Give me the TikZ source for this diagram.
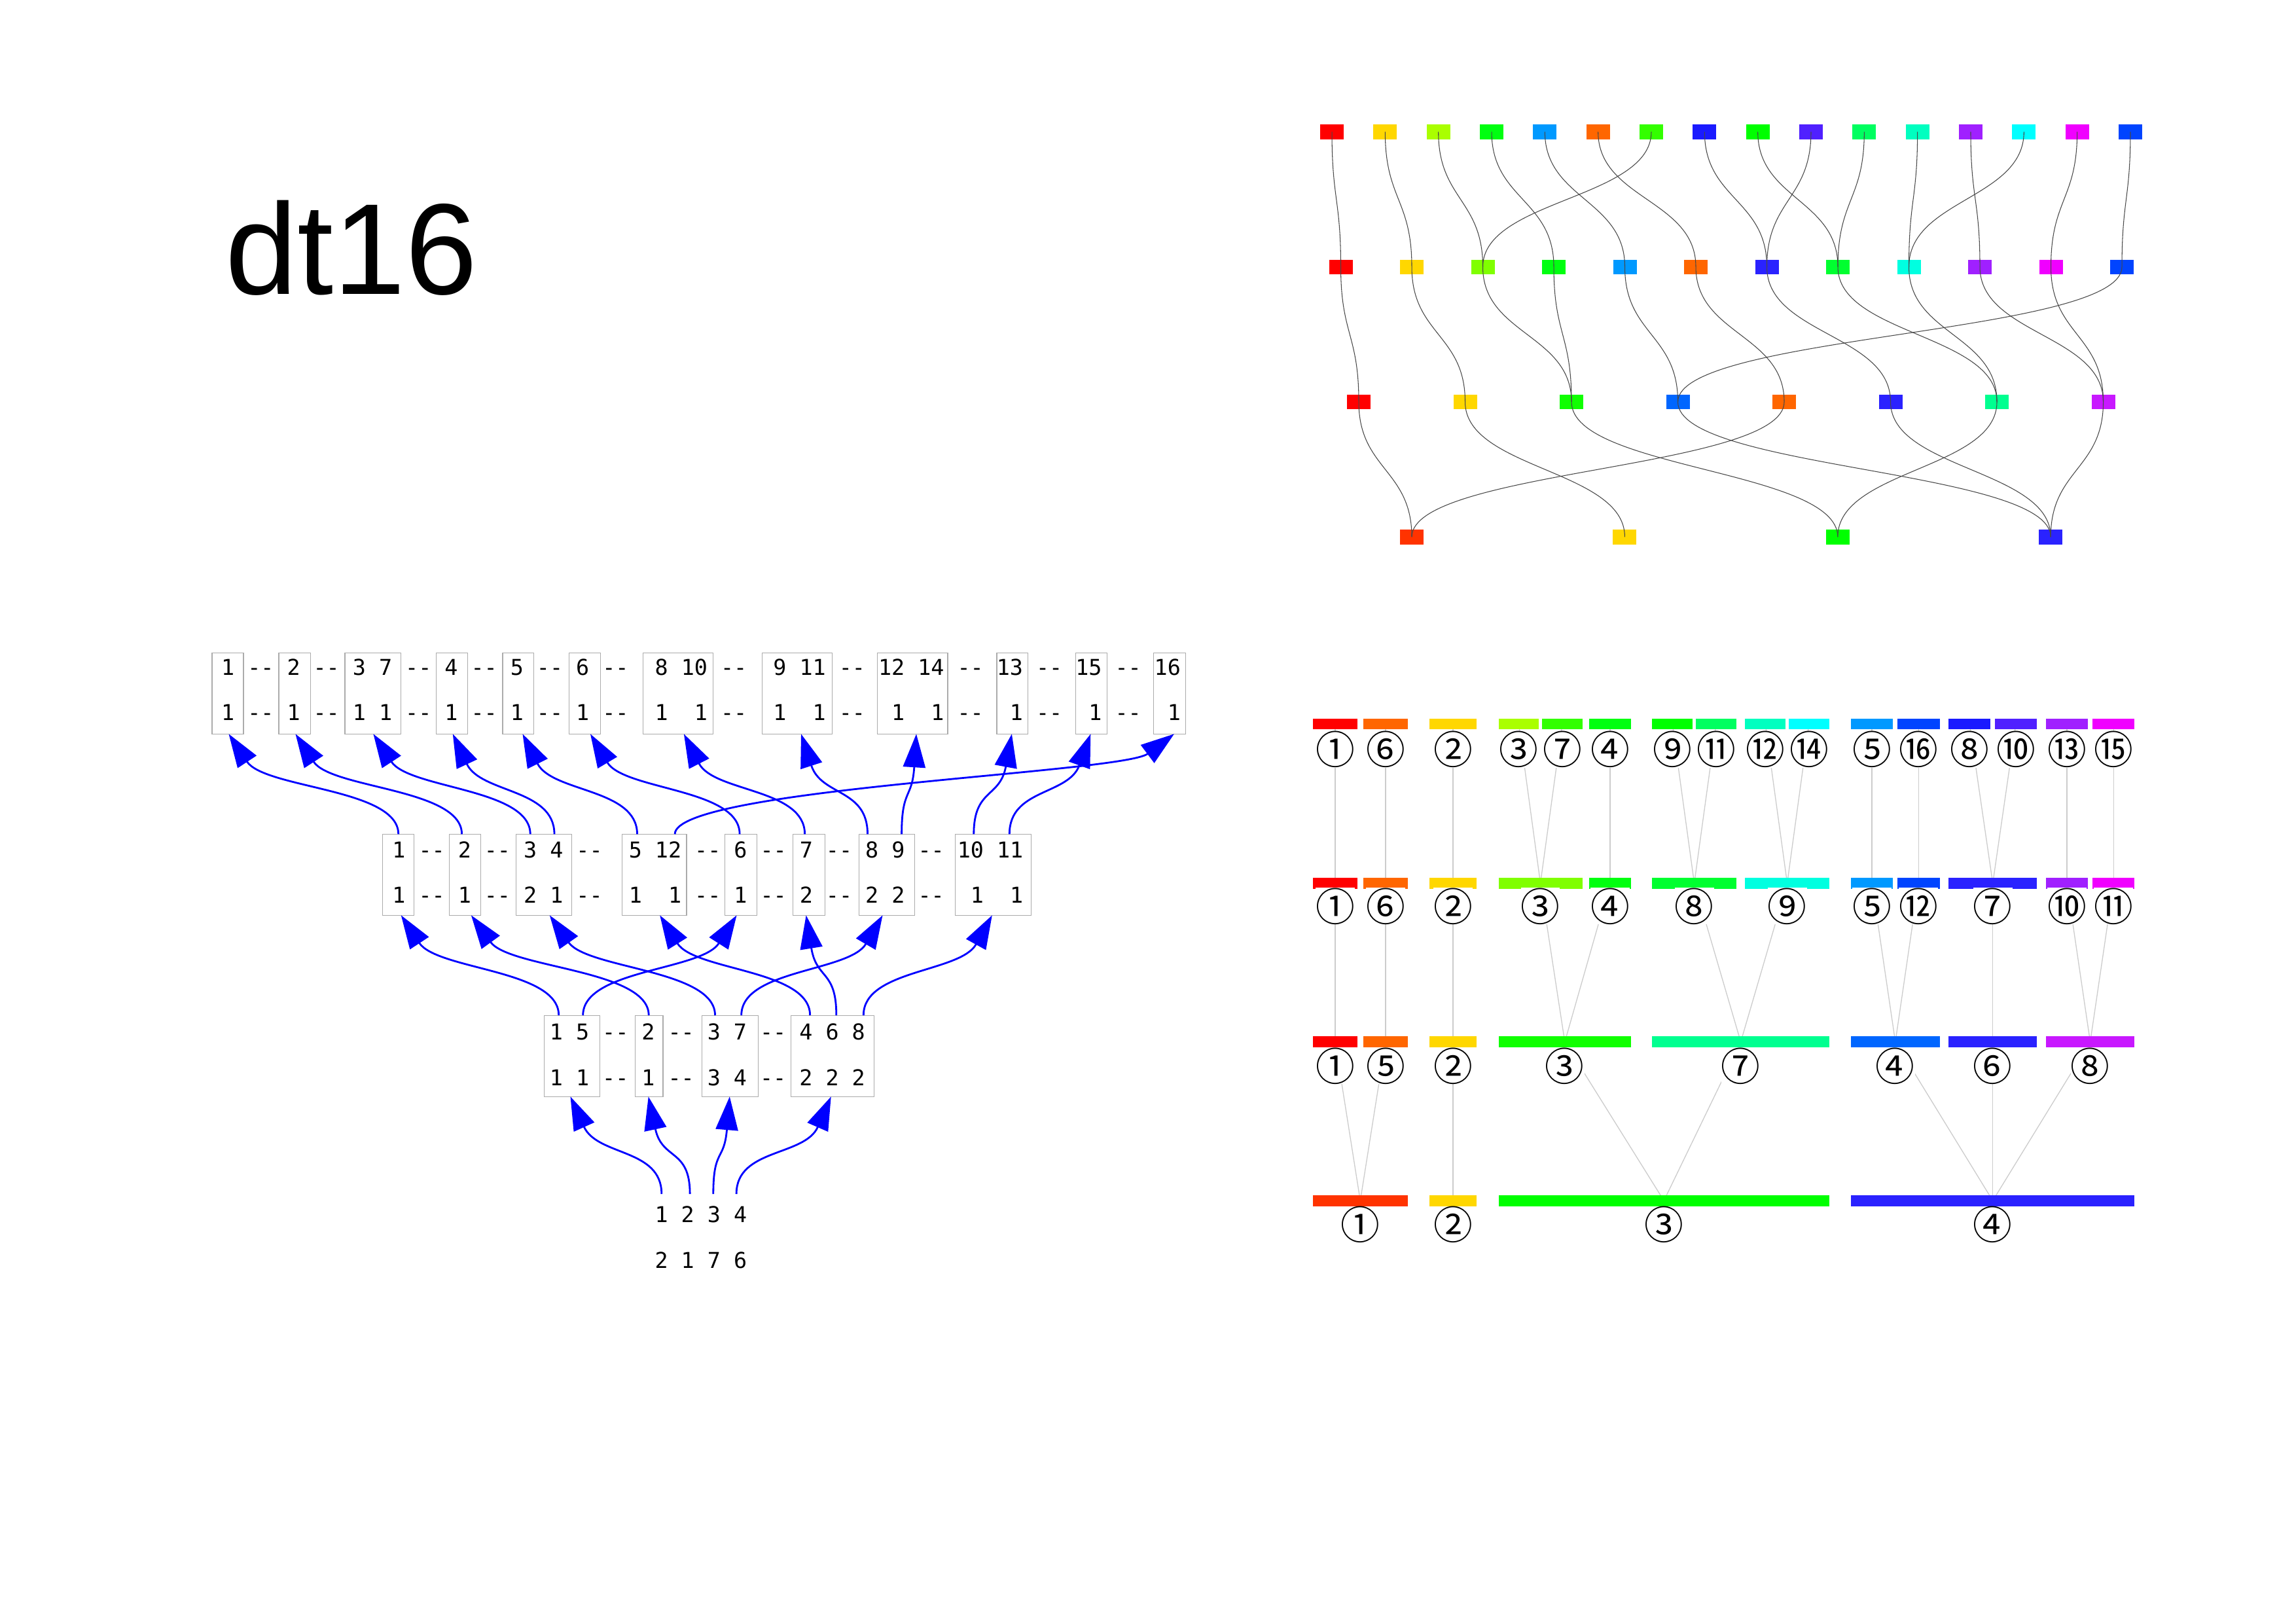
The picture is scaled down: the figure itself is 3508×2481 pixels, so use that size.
\documentclass[tikz,border=0pt]{standalone}
\usepackage{fontspec}
\setmainfont{Liberation Sans}
\newfontfamily\monof{DejaVu Sans Mono}
\newfontfamily\cjkf{Noto Sans CJK JP}
\usetikzlibrary{arrows.meta}
\pgfdeclarelayer{paper}
\pgfdeclarelayer{bg}
\pgfsetlayers{paper,bg,main}
\newcommand\dsh{-\kern0pt-}
\begin{document}
\begin{tikzpicture}[x=0.1mm,y=-0.1mm,
  gbox/.style={minimum width=3.6mm,minimum height=2.25mm,inner sep=0pt,draw=none},
  gedge/.style={draw=black!72,line width=0.3pt},
  tbox/.style={draw=black!33,line width=0.35pt,minimum height=12.4mm,inner sep=0pt},
  mono/.style={font=\monof\fontsize{9.49pt}{11pt}\selectfont,inner sep=0pt,anchor=base west},
  barrow/.style={draw=blue,line width=0.8pt,-{Triangle[length=5.1mm,width=3.4mm]}},
  bar/.style={minimum height=1.66mm,inner sep=0pt,draw=none},
  clab/.style={font=\cjkf\fontsize{17pt}{18pt}\selectfont,inner sep=0pt,fill=white},
  lline/.style={draw=black!20,line width=0.37pt}]
\begin{pgfonlayer}{paper}
\fill[white] (0,0) rectangle (3508,2481);
\end{pgfonlayer}
\useasboundingbox (0,0) rectangle (3508,2481);

% title
\node[font=\fontsize{56.3pt}{60pt}\selectfont,anchor=base west,inner sep=0pt] (title) at (344,450) {dt16};

% ---------------- top-right graph ----------------
\foreach \c [count=\i] in {FF0000,FFD700,AAFF00,00FF10,0099FF,FF6600,33FF00,1A1AFF,00FF00,5020FF,00FF60,00FFC0,A020FF,00FFFF,F000FF,0044FF}
  {\definecolor{tmpc}{HTML}{\c}\node[gbox,fill=tmpc] (p1-\i) at ({2035+81.33*(\i-1)},201.3) {};}
\foreach \c [count=\i] in {FF0000,FFD700,80FF00,00FF10,0099FF,FF6600,2A22FF,00FF30,00FFE0,A020FF,F000FF,0044FF}
  {\definecolor{tmpc}{HTML}{\c}\node[gbox,fill=tmpc] (p2-\i) at ({2048.5+108.5*(\i-1)},407.8) {};}
\foreach \c [count=\i] in {FF0000,FFD700,10FF00,0066FF,FF6600,2A22FF,00FF90,C818FF}
  {\definecolor{tmpc}{HTML}{\c}\node[gbox,fill=tmpc] (p3-\i) at ({2076+162.5*(\i-1)},614) {};}
\foreach \c [count=\i] in {FF3300,FFD700,00FF00,2A22FF}
  {\definecolor{tmpc}{HTML}{\c}\node[gbox,fill=tmpc] (p4-\i) at ({2157+325.4*(\i-1)},820.3) {};}
\foreach \a/\b in {1/1,2/2,3/3,4/4,5/5,6/6,7/3,8/7,9/8,10/7,11/8,12/9,13/10,14/9,15/11,16/12}
  \draw[gedge] (p1-\a.center) .. controls +(0,103) and +(0,-103) .. (p2-\b.center);
\foreach \a/\b in {1/1,2/2,3/3,4/3,5/4,6/5,7/6,8/7,9/7,10/8,11/8,12/4}
  \draw[gedge] (p2-\a.center) .. controls +(0,103) and +(0,-103) .. (p3-\b.center);
\foreach \a/\b in {1/1,2/2,3/3,4/4,5/1,6/4,7/3,8/4}
  \draw[gedge] (p3-\a.center) .. controls +(0,103) and +(0,-103) .. (p4-\b.center);

% ---------------- bottom-left tree ----------------
\foreach \n/\x/\w in {1/348/47.9,2/450.25/48.5,3/569.6/85.2,4/690.8/48,5/791.85/47.9,6/893.35/47.9,7/1036.25/107.1,8/1217.85/107.1,9/1394.4/107.2,10/1546.7/47.4,11/1667.35/47.9,12/1787/48.4}
  \node[tbox,minimum width=\w*0.1mm] (A\n) at (\x,1059.3) {};
\foreach \n/\x/\w in {1/608.7/48,2/710.7/48,3/830.9/85.2,4/999.75/98.5,5/1132.15/48.9,6/1235.95/49.5,7/1355.1/84.6,8/1517.6/115.8}
  \node[tbox,minimum width=\w*0.1mm] (B\n) at (\x,1336.3) {};
\foreach \n/\x/\w in {1/873.75/84.9,2/991.8/42.4,3/1115.25/85.7,4/1272/126.8}
  \node[tbox,minimum width=\w*0.1mm] (C\n) at (\x,1613.2) {};

\node[mono] (Atop) at (337.4,1031.7) {1~\dsh~2~\dsh~3~7~\dsh~4~\dsh~5~\dsh~6~\dsh~~8~10~\dsh~~9~11~\dsh~12~14~\dsh~13~\dsh~15~\dsh~16};
\node[mono] (Abot) at (337.4,1100.7) {1~\dsh~1~\dsh~1~1~\dsh~1~\dsh~1~\dsh~1~\dsh~~1~~1~\dsh~~1~~1~\dsh~~1~~1~\dsh~~1~\dsh~~1~\dsh~~1};
\node[mono] (Btop) at (598.65,1310) {1~\dsh~2~\dsh~3~4~\dsh~~5~12~\dsh~6~\dsh~7~\dsh~8~9~\dsh~10~11};
\node[mono] (Bbot) at (598.65,1379) {1~\dsh~1~\dsh~2~1~\dsh~~1~~1~\dsh~1~\dsh~2~\dsh~2~2~\dsh~~1~~1};
\node[mono] (Ctop) at (839.15,1588) {1~5~\dsh~2~\dsh~3~7~\dsh~4~6~8};
\node[mono] (Cbot) at (839.15,1658) {1~1~\dsh~1~\dsh~3~4~\dsh~2~2~2};
\node[mono] (Dtop) at (999.85,1867) {1~2~3~4};
\node[mono] (Dbot) at (999.85,1937) {2~1~7~6};

\foreach \k/\sx/\sy/\tx/\ty/\ox/\oy in {
  1/1010.8/1824/871.5/1675.3/41.1/91.2,
  2/1054.1/1824/990.7/1675.3/21/97.8,
  3/1089.8/1824/1114.8/1675.3/-8.4/99.6,
  4/1125.1/1824/1269.7/1675.3/-40/91.6,
  5/853.7/1551/612.8/1398.3/55/83.6,
  6/991.2/1551/719.9/1398.3/58.6/81,
  7/1092.5/1551/839.8/1398.3/57.3/82,
  8/1237.6/1551/1008.2/1398.3/53/84.8,
  9/890.7/1551/1125.5/1398.3/-53.6/84.4,
  10/1277.8/1551/1231.6/1398.3/15.8/98.7,
  11/1132.7/1551/1348.5/1398.3/-50.5/86.4,
  12/1319.3/1551/1515.8/1398.3/-48.4/87.5,
  13/608.7/1274.3/349.5/1121.3/55/83.5,
  14/705.6/1274.3/451.5/1121.3/54.6/83.8,
  15/810.2/1274.3/570.4/1121.3/54.6/83.8,
  16/847/1274.3/691.8/1121.3/42.4/90.6,
  17/973.5/1274.3/798.5/1121.3/44.9/89.4,
  18/1031.1/1274.3/1793.9/1121.3/-80/60,
  19/1130.1/1274.3/902/1121.3/51.2/86,
  20/1229.6/1274.3/1044.9/1121.3/45.6/89,
  21/1325.5/1274.3/1224/1121.3/30.8/95.1,
  22/1377.6/1274.3/1400/1121.3/-6.3/99.8,
  23/1487.8/1274.3/1545.9/1121.3/-18.1/98.3,
  24/1542.3/1274.3/1666.3/1121.3/-33.8/94.1}
  {\coordinate (s\k) at (\sx,\sy);
   \coordinate (t\k) at (\tx,\ty);
   \draw[barrow] (s\k) .. controls +(0,-70) and +(\ox,\oy) .. (t\k);}

% ---------------- bottom-right bars ----------------
\foreach \x/\w/\c/\n in {2039.9/67.8/FF0000/1,2116.9/67.4/FF6600/6,2220.05/71.9/FFD700/2,2320.3/61.6/AAFF00/3,2387/61.2/33FF00/7,2460/64.2/00FF10/4,2555.1/61.6/00FF00/9,2622.1/61.6/00FF60/11,2697.1/61.6/00FFC0/12,2763.9/62/00FFFF/14,2860.05/64.3/0099FF/5,2931.3/64.8/0044FF/16,3009.15/64.3/1A1AFF/8,3079.95/64.7/5020FF/10,3157.85/64.3/A020FF/13,3229.25/64.3/F000FF/15}
  {\definecolor{tmpc}{HTML}{\c}
   \node[bar,fill=tmpc,minimum width=\w*0.1mm] (q1-\n) at (\x,1106) {};
   \node[clab] (l1-\n) at (\x,1145) {\char\numexpr9311+\n\relax};}
\foreach \x/\w/\c/\n in {2039.9/67.8/FF0000/1,2116.9/67.4/FF6600/6,2220.05/71.9/FFD700/2,2353.55/128.1/80FF00/3,2460/64.2/00FF10/4,2588.6/128.6/00FF30/8,2730.6/128.6/00FFE0/9,2860.05/64.3/0099FF/5,2931.3/64.8/0044FF/12,3044.65/135.3/2A22FF/7,3157.85/64.3/A020FF/10,3229.25/64.3/F000FF/11}
  {\definecolor{tmpc}{HTML}{\c}
   \node[bar,fill=tmpc,minimum width=\w*0.1mm] (q2-\n) at (\x,1349.3) {};
   \node[clab] (l2-\n) at (\x,1384.3) {\char\numexpr9311+\n\relax};}
\foreach \x/\w/\c/\n in {2039.9/67.8/FF0000/1,2116.9/67.4/FF6600/5,2220.05/71.9/FFD700/2,2390.8/202.6/10FF00/3,2659.6/270.6/00FF90/7,2895.8/135.8/0066FF/4,3044.65/135.3/2A22FF/6,3193.55/135.7/C818FF/8}
  {\definecolor{tmpc}{HTML}{\c}
   \node[bar,fill=tmpc,minimum width=\w*0.1mm] (q3-\n) at (\x,1591.7) {};
   \node[clab] (l3-\n) at (\x,1628.3) {\char\numexpr9311+\n\relax};}
\foreach \x/\w/\c/\n in {2078.3/144.6/FF3300/1,2220.05/71.9/FFD700/2,2542.2/505.4/00FF00/3,3044.65/433.5/2A22FF/4}
  {\definecolor{tmpc}{HTML}{\c}
   \node[bar,fill=tmpc,minimum width=\w*0.1mm] (q4-\n) at (\x,1834.3) {};
   \node[clab] (l4-\n) at (\x,1870.8) {\char\numexpr9311+\n\relax};}
\begin{pgfonlayer}{bg}
\foreach \a/\b in {1/1,6/6,2/2,3/3,7/3,4/4,9/8,11/8,12/9,14/9,5/5,16/12,8/7,10/7,13/10,15/11}
  \draw[lline] (q1-\a.center) -- (q2-\b.center);
\foreach \a/\b in {1/1,6/5,2/2,3/3,4/3,8/7,9/7,5/4,12/4,7/6,10/8,11/8}
  \draw[lline] (q2-\a.center) -- (q3-\b.center);
\foreach \a/\b in {1/1,5/1,2/2,3/3,7/3,4/4,6/4,8/4}
  \draw[lline] (q3-\a.center) -- (q4-\b.center);
\end{pgfonlayer}
\end{tikzpicture}
\end{document}
